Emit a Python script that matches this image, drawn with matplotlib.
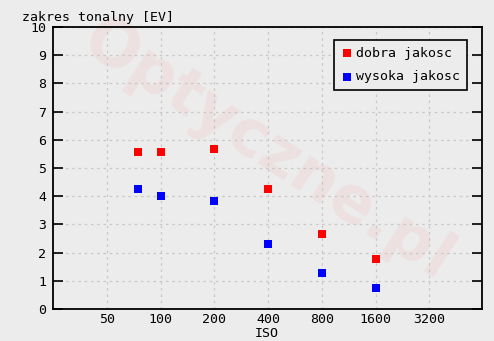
import matplotlib
matplotlib.use("Agg")
import matplotlib.pyplot as plt
from matplotlib.ticker import FixedLocator, NullLocator

iso = [75, 100, 200, 400, 800, 1600]
dobra = [5.56, 5.56, 5.66, 4.24, 2.65, 1.76]
wysoka = [4.24, 4.0, 3.82, 2.29, 1.27, 0.73]
xticks = [50, 100, 200, 400, 800, 1600, 3200]
xtick_labels = ["50", "100", "200", "400", "800", "1600", "3200"]
yticks = list(range(0, 11))

bg = "#ececec"
plt.rcParams['font.family'] = ['DejaVu Sans Mono']
fig = plt.figure(figsize=(4.94, 3.41), dpi=100, facecolor=bg)
ax = fig.add_axes([53/494, 1 - 309/341, (482-53)/494, (309-27)/341])
ax.set_facecolor(bg)
ax.set_xscale('log', base=2)
ax.set_xlim(25, 6300)
ax.set_ylim(0, 10)

ax.text(0.5, 0.56, "Optyczne.pl", transform=ax.transAxes, rotation=-33,
        fontsize=46, fontweight='bold', color=(0.95, 0.78, 0.78), alpha=0.3,
        ha='center', va='center', family='DejaVu Sans', zorder=0)

ax.grid(True, color='#c8c8c8', linestyle=(0, (2, 3)), linewidth=0.9, zorder=1)
ax.scatter(iso, dobra, marker='s', s=30, color='#ff0000', label='dobra jakosc', zorder=3, linewidths=0)
ax.scatter(iso, wysoka, marker='s', s=30, color='#0000ff', label='wysoka jakosc', zorder=3, linewidths=0)

ax.xaxis.set_major_locator(FixedLocator(xticks))
ax.set_xticklabels(xtick_labels)
ax.xaxis.set_minor_locator(NullLocator())
ax.set_yticks(yticks)
ax.tick_params(axis='x', length=0, labelsize=9.5, pad=3)
ax.tick_params(axis='y', direction='in', length=7, width=1.2, labelsize=9.5, right=True, pad=5)
for s in ax.spines.values():
    s.set_linewidth(1.3)

ax.set_xlabel("ISO", fontsize=9.5)
ax.xaxis.set_label_coords((267-53)/(482-53), -(327-309)/282)
fig.text(22/494, 1 - 17/341, "zakres tonalny [EV]", fontsize=9.5, ha='left', va='center')

leg = ax.legend(loc='upper right', bbox_to_anchor=((467-53)/(482-53), (309-40)/(309-27)),
                fontsize=9.5, frameon=True, fancybox=False, edgecolor='black',
                facecolor=bg, framealpha=1, handletextpad=0.2, borderpad=0.5,
                borderaxespad=0, labelspacing=0.8, markerscale=1.0, handlelength=1.0)
leg.get_frame().set_linewidth(1.2)

fig.savefig("out.png", dpi=100, facecolor=bg)
